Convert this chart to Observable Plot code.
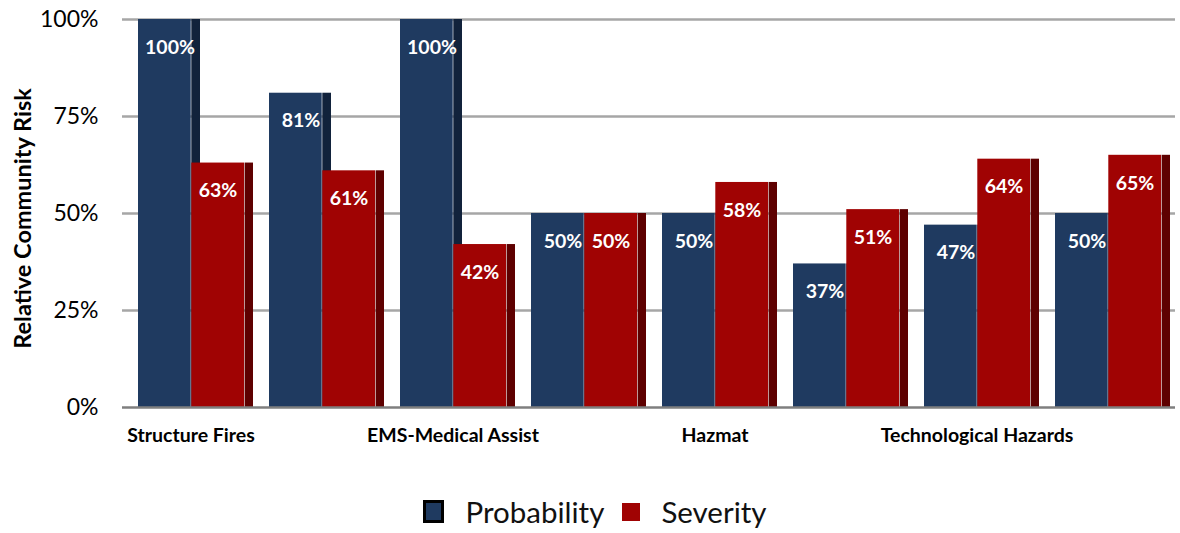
<!DOCTYPE html>
<html>
<head>
<meta charset="utf-8">
<script src="https://cdn.jsdelivr.net/npm/d3@7"></script>
<script src="https://cdn.jsdelivr.net/npm/@observablehq/plot@0.6"></script>
<style>
  html, body { margin: 0; padding: 0; background: #fff; }
  body { width: 1180px; height: 533px; overflow: hidden; font-family: Lato, "Open Sans", sans-serif; }
  #chart svg { display: block; }
  .legend { display: flex; align-items: center; justify-content: center; height: 43px; margin-left: 10px; }
  .legend .item { display: flex; align-items: center; font-size: 29.5px; color: #111; }
  .legend .sw { display: inline-block; margin-right: 21px; }
  .legend .sw.p { width: 15px; height: 17px; background: #1f3a60; border: 3px solid #000; }
  .legend .sw.s { width: 18px; height: 18px; background: #a00303; margin-left: 18px; }
</style>
</head>
<body>
<div id="chart"></div>
<div class="legend">
  <span class="item"><span class="sw p"></span>Probability</span>
  <span class="item"><span class="sw s"></span>Severity</span>
</div>
<script>
// Risk categories (only every other name is shown under the axis)
const categories = [
  "Structure Fires", "Wildland Fires", "EMS-Medical Assist", "Technical Rescue",
  "Hazmat", "Aviation-Marine", "Technological Hazards", "Natural Hazards"
];
// Relative community risk, as fractions of the highest score
const probability = [1.00, 0.81, 1.00, 0.50, 0.50, 0.37, 0.47, 0.50];
const severity    = [0.63, 0.61, 0.42, 0.50, 0.58, 0.51, 0.64, 0.65];
const yTicks = [0, 0.25, 0.5, 0.75, 1];

const probRows = categories.map((c, i) => ({category: c, value: probability[i]}));
const sevRows = categories.map((c, i) => ({category: c, value: severity[i]}));

const blue = "#1f3a60", blueSide = "#11223b";
const red = "#a00303", redSide = "#5e0000";
const pct = d3.format(".0%");

const labelFont = {fontSize: 19.5, fontWeight: "bold", fill: "white"};

const chart = Plot.plot({
  width: 1180,
  height: 490,
  marginTop: 19,
  marginBottom: 83,
  marginLeft: 122,
  marginRight: 5,
  style: {fontFamily: "Lato, 'Open Sans', sans-serif", color: "#000", background: "white"},
  x: {type: "band", domain: categories, padding: 0},
  y: {domain: [0, 1]},
  marks: [
    // horizontal gridlines
    Plot.ruleY(yTicks.slice(1), {stroke: "#a6a6a6", strokeWidth: 2.5}),
    // probability bars: front face and shaded depth side
    Plot.barY(probRows, {x: "category", y: "value", fill: blue, insetLeft: 13, insetRight: 65.3}),
    Plot.barY(probRows, {x: "category", y: "value", fill: blueSide, insetLeft: 66.3, insetRight: 56}),
    // severity bars
    Plot.barY(sevRows, {x: "category", y: "value", fill: red, insetLeft: 66.3, insetRight: 12}),
    Plot.barY(sevRows, {x: "category", y: "value", fill: redSide, insetLeft: 119.6, insetRight: 3}),
    // baseline
    Plot.ruleY([0], {stroke: "#7f7f7f", strokeWidth: 2.5}),
    // value labels
    Plot.text(probRows, {x: "category", y: "value", text: d => pct(d.value), dx: -21, dy: 28, ...labelFont}),
    Plot.text(sevRows, {x: "category", y: "value", text: d => pct(d.value), dx: 27, dy: 28, ...labelFont}),
    Plot.axisY({
      ticks: yTicks, tickFormat: pct, tickSize: 0, tickPadding: 24, fontSize: 23,
      label: "Relative Community Risk", labelAnchor: "center", labelArrow: "none", labelOffset: 108
    }),
    Plot.axisX({
      tickSize: 0, tickPadding: 21, fontSize: 19.5, fontWeight: "bold",
      tickFormat: (d, i) => (categories.indexOf(d) % 2 === 0 ? d : ""), label: null
    })
  ]
});

// style the rotated y-axis title and centre it on the whole chart area
const yLabel = chart.querySelector("[aria-label='y-axis label']");
if (yLabel) {
  yLabel.setAttribute("font-weight", "bold");
  yLabel.setAttribute("font-size", "23.5");
  const t = yLabel.querySelector("text") || yLabel;
  const tr = t.getAttribute("transform") || "";
  const m = tr.match(/translate\(([-\d.]+),\s*([-\d.]+)\)/);
  if (m) t.setAttribute("transform", tr.replace(m[0], `translate(${m[1]},218)`));
}
document.getElementById("chart").appendChild(chart);
</script>
</body>
</html>
